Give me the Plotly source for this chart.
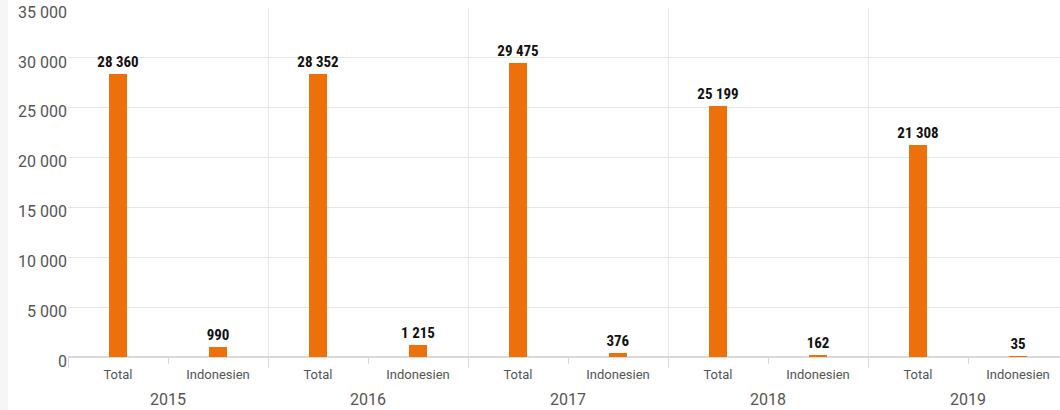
import plotly.graph_objects as go

years = ["2015", "2016", "2017", "2018", "2019"]
groups = ["Total", "Indonesien"]
total_values = [28360, 28352, 29475, 25199, 21308]
indonesien_values = [990, 1215, 376, 162, 35]

x_pos, x_text, y_vals = [], [], []
for i, yr in enumerate(years):
    for j, g in enumerate(groups):
        x_pos.append(i * len(groups) + j)
        x_text.append(g)
    y_vals += [total_values[i], indonesien_values[i]]

labels = [f"{v:,}".replace(",", " ") for v in y_vals]
n = len(x_pos)
ng = len(groups)
xr = [-0.5, n - 0.58]

fig = go.Figure()
fig.add_trace(go.Bar(
    x=x_pos, y=y_vals,
    marker=dict(color="#ED700A", line=dict(width=0)),
    width=0.18,
    text=labels, textposition="outside", constraintext="none",
    textfont=dict(family="Roboto Condensed, Roboto", size=15, color="#111111", weight="bold"),
    cliponaxis=False, hoverinfo="skip",
))
fig.add_trace(go.Scatter(x=[0], y=[0], xaxis="x2", mode="markers",
                         marker=dict(opacity=0), hoverinfo="skip", showlegend=False))

year_bounds = [i * ng - 0.5 for i in range(len(years))]
all_bounds = [k - 0.5 for k in range(n)]

annotations = []
for i, yr in enumerate(years):
    annotations.append(dict(
        x=i * ng + (ng - 1) / 2, y=0, xref="x", yref="paper",
        text=yr, showarrow=False, yanchor="top", yshift=-31,
        font=dict(family="Roboto", size=16, color="#555555"),
    ))

fig.update_layout(
    width=1060, height=410,
    margin=dict(l=68, r=0, t=8, b=53),
    paper_bgcolor="white", plot_bgcolor="white",
    showlegend=False,
    separators=", ",
    font=dict(family="Roboto", color="#555555"),
    bargap=0,
    xaxis=dict(
        range=xr, tickvals=x_pos, ticktext=x_text,
        showgrid=False, showline=True, linecolor="#d9d9d9", linewidth=1,
        ticks="outside", tickcolor="rgba(0,0,0,0)", ticklen=5,
        tickfont=dict(family="Roboto", size=13, color="#555555"),
        zeroline=False, automargin=False,
    ),
    xaxis2=dict(
        overlaying="x", range=xr, showticklabels=False,
        tickvals=year_bounds,
        showgrid=True, gridcolor="#e6e6e6", gridwidth=1, zeroline=False,
        showline=False, ticks="outside", ticklen=10, tickcolor="#d9d9d9",
        side="bottom", automargin=False,
        minor=dict(tickvals=all_bounds, ticks="outside", ticklen=6,
                   tickcolor="#d9d9d9", showgrid=False),
    ),
    yaxis=dict(
        range=[0, 35010], tickvals=[0, 5000, 10000, 15000, 20000, 25000, 30000, 35000],
        tickformat=",d",
        showgrid=True, gridcolor="#e6e6e6", gridwidth=1,
        zeroline=True, zerolinecolor="#d9d9d9",
        showline=False, ticks="", automargin=False,
        ticklabelshift=4, ticklabeloverflow="allow",
        tickfont=dict(family="Roboto", size=16, color="#555555"),
    ),
    annotations=annotations,
    shapes=[dict(type="rect", xref="paper", yref="paper",
                 x0=-68 / 992, x1=-60 / 992, y0=-1, y1=2,
                 fillcolor="#f6f6f6", line=dict(width=0), layer="below")],
)
fig.write_html("out.html", config={"displayModeBar": False},
               post_script="document.body.style.margin='0px';")
